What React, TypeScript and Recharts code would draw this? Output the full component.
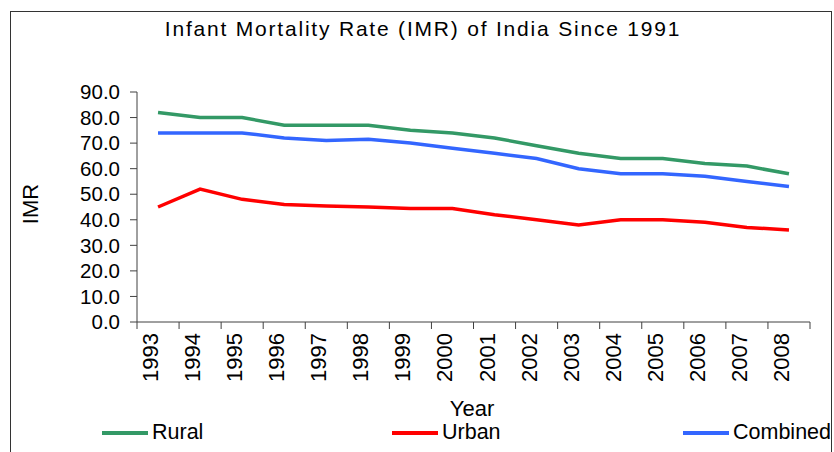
import React from 'react';
import { LineChart, Line, XAxis, YAxis } from 'recharts';

const years = ['1993', '1994', '1995', '1996', '1997', '1998', '1999', '2000', '2001', '2002', '2003', '2004', '2005', '2006', '2007', '2008'];
const rural = [82, 80, 80, 77, 77, 77, 75, 74, 72, 69, 66, 64, 64, 62, 61, 58];
const urban = [45, 52, 48, 46, 45.4, 45, 44.4, 44.4, 42, 40, 38, 40, 40, 39, 37, 36];
const combined = [74, 74, 74, 72, 71, 71.5, 70, 68, 66, 64, 60, 58, 58, 57, 55, 53];
const yTicks = [0, 10, 20, 30, 40, 50, 60, 70, 80, 90];
const boundaryTicks = years.map((_, i) => i).concat([years.length]);

const series = [
  { key: 'rural', name: 'Rural', color: '#339966' },
  { key: 'urban', name: 'Urban', color: '#ff0000' },
  { key: 'combined', name: 'Combined', color: '#3366ff' },
];

const data = years.map((year, i) => ({ year, rural: rural[i], urban: urban[i], combined: combined[i] }));

const font = '"Liberation Sans", Arial, sans-serif';

const YearTick = (props: any) => {
  const { x, y, payload } = props;
  return (
    <text x={x} y={y} transform={`rotate(-90, ${x}, ${y})`} textAnchor="end" fontSize={22} fill="#000" fontFamily={font}>
      {payload.value}
    </text>
  );
};

const NoLabel = () => <g />;

// legend positions as in the original
const legendLeft = [102, 392, 683];

export default function App() {
  return (
    <div style={{ position: 'fixed', left: 0, top: 0, width: 834, height: 452, background: '#fff', fontFamily: font, overflow: 'hidden' }}>
      <div style={{ position: 'absolute', left: 10, top: 11, width: 820, height: 460, border: '1.5px solid #333' }} />
      <div style={{ position: 'absolute', left: 0, width: 846, top: 17, textAlign: 'center', fontSize: 21, letterSpacing: 1.8, color: '#000' }}>
        Infant Mortality Rate (IMR) of India Since 1991
      </div>
      <div style={{ position: 'absolute', left: 0, top: 0 }}>
        <LineChart width={834} height={452} data={data} margin={{ top: 92, right: 24, left: 77, bottom: 59 }}>
          {/* category boundaries, like Excel's tick marks between years */}
          <XAxis
            xAxisId={0}
            type="number"
            dataKey="edge"
            domain={[0, years.length]}
            ticks={boundaryTicks}
            interval={0}
            tick={<NoLabel />}
            height={1}
            tickSize={7}
            stroke="#404040"
            allowDataOverflow
          />
          <XAxis
            xAxisId={1}
            dataKey="year"
            scale="band"
            height={70}
            axisLine={false}
            tickLine={false}
            interval={0}
            tick={<YearTick />}
            tickMargin={4}
          />
          <YAxis
            domain={[0, 90]}
            ticks={yTicks}
            interval={0}
            width={60}
            tickSize={7}
            tickMargin={10}
            stroke="#404040"
            tickFormatter={(v: number) => v.toFixed(1)}
            tick={{ fill: '#000', fontSize: 20.5, fontFamily: font }}
          />
          {series.map((s) => (
            <Line
              key={s.key}
              xAxisId={1}
              type="linear"
              dataKey={s.key}
              name={s.name}
              stroke={s.color}
              strokeWidth={3.5}
              dot={false}
              isAnimationActive={false}
            />
          ))}
        </LineChart>
      </div>
      <div style={{ position: 'absolute', left: 31, top: 204, transform: 'translate(-50%, -50%) rotate(-90deg)', fontSize: 22, color: '#000' }}>
        IMR
      </div>
      <div style={{ position: 'absolute', left: 472, top: 396, transform: 'translateX(-50%)', fontSize: 22, color: '#000' }}>
        Year
      </div>
      {series.map((s, i) => (
        <div key={s.key} style={{ position: 'absolute', left: legendLeft[i], top: 420, display: 'flex', alignItems: 'center', fontSize: 21.5, color: '#000' }}>
          <span style={{ display: 'inline-block', width: 46, height: 4, background: s.color, marginRight: 4 }} />
          {s.name}
        </div>
      ))}
    </div>
  );
}
